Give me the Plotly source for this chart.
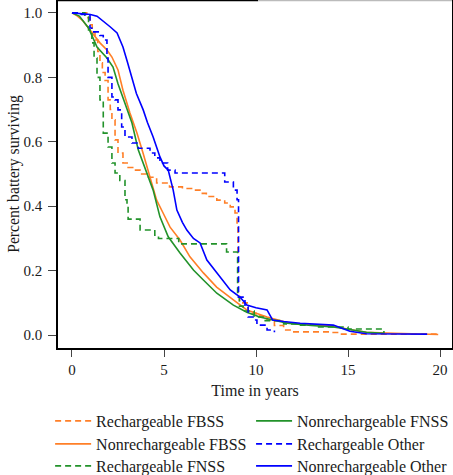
import plotly.graph_objects as go

# ---- data ----
rfbss_t = [0, 0.8, 0.98, 1.1, 1.25, 1.4, 1.52, 1.65, 1.8, 1.96, 2.08, 2.17, 2.34, 2.5, 2.77, 3.0, 3.3, 3.7,
           4.06, 4.6, 5.3, 6.0, 6.6, 7.0, 7.3, 7.87, 8.3, 8.6, 8.86, 8.97, 9.02, 9.1, 9.57, 10.0, 10.4, 10.6,
           11.0, 11.5, 12.0, 14.0, 14.5, 19.9]
rfbss_s = [1.0, 0.985, 0.963, 0.94, 0.916, 0.88, 0.845, 0.815, 0.79, 0.73, 0.70, 0.668, 0.606, 0.565, 0.534,
           0.52, 0.512, 0.50, 0.49, 0.472, 0.46, 0.455, 0.45, 0.44, 0.43, 0.419, 0.41, 0.398, 0.379, 0.348,
           0.13, 0.10, 0.068, 0.06, 0.056, 0.047, 0.03, 0.016, 0.01, 0.008, 0.003, 0.003]

nfbss_t = [0, 0.3, 0.6, 0.98, 1.25, 1.52, 1.9, 2.17, 2.5, 2.77, 3.15, 3.53, 3.86, 4.24, 4.5, 4.6, 4.95, 5.33,
           5.87, 6.41, 7.14, 7.86, 8.77, 9.5, 10.6, 11.85, 13.0, 14.2, 15.0, 16.0, 17.5, 19.9]
nfbss_s = [1.0, 0.99, 0.975, 0.947, 0.925, 0.907, 0.885, 0.863, 0.823, 0.76, 0.689, 0.627, 0.565, 0.49, 0.44,
           0.419, 0.379, 0.335, 0.295, 0.243, 0.193, 0.149, 0.109, 0.078, 0.056, 0.037, 0.032, 0.028, 0.018,
           0.009, 0.006, 0.002]

rfnss_t = [0, 0.7, 0.9, 1.08, 1.2, 1.36, 1.52, 1.7, 1.96, 2.17, 2.34, 2.6, 2.88, 2.99, 3.05, 3.7, 4.5, 4.7,
           5.8, 8.4, 9.0, 9.1, 9.3, 9.9, 10.5, 11.5, 12.2, 13.3, 15.0, 16.95]
rfnss_s = [1.0, 0.99, 0.947, 0.907, 0.86, 0.80, 0.73, 0.627, 0.584, 0.534, 0.503, 0.48, 0.42, 0.40, 0.36,
           0.326, 0.31, 0.30, 0.283, 0.258, 0.118, 0.09, 0.075, 0.056, 0.045, 0.035, 0.031, 0.025, 0.019, 0.004]

nfnss_t = [0, 0.4, 0.9, 1.36, 1.9, 2.23, 2.5, 2.88, 3.26, 3.6, 4.06, 4.41, 4.78, 5.23, 5.87, 6.6, 7.14, 7.87,
           8.77, 9.5, 10.2, 11.7, 13.0, 14.2, 15.0, 16.0, 16.9]
nfnss_s = [1.0, 0.99, 0.953, 0.894, 0.86, 0.832, 0.78, 0.72, 0.658, 0.575, 0.503, 0.45, 0.367, 0.305, 0.255,
           0.202, 0.171, 0.13, 0.093, 0.071, 0.056, 0.037, 0.03, 0.025, 0.018, 0.009, 0.006]

roth_t = [0, 0.43, 0.98, 1.08, 1.52, 1.7, 1.9, 1.96, 2.17, 2.34, 2.5, 2.7, 2.88, 3.26, 3.6, 4.24, 4.5, 4.78,
          5.2, 5.6, 8.3, 8.77, 8.97, 9.05, 9.4, 9.57, 9.84, 10.05, 10.6, 11.0]
roth_s = [1.0, 0.995, 0.953, 0.941, 0.93, 0.916, 0.86, 0.80, 0.739, 0.73, 0.699, 0.646, 0.615, 0.596, 0.58,
          0.565, 0.55, 0.534, 0.512, 0.503, 0.475, 0.45, 0.42, 0.118, 0.087, 0.056, 0.047, 0.031, 0.016, 0.009]

noth_t = [0, 0.5, 1.0, 1.36, 1.7, 2.07, 2.45, 2.77, 3.0, 3.24, 3.5, 3.87, 4.1, 4.41, 4.78, 5.0, 5.23, 5.5, 5.7,
          6.0, 6.24, 6.6, 6.96, 7.33, 7.7, 8.04, 8.6, 9.13, 9.5, 10.0, 10.6, 10.9, 11.5, 12.4, 13.3, 14.2, 15.1,
          16.0, 19.3]
noth_s = [1.0, 0.998, 0.995, 0.99, 0.975, 0.957, 0.938, 0.894, 0.85, 0.80, 0.75, 0.699, 0.66, 0.615, 0.553,
          0.525, 0.512, 0.45, 0.388, 0.35, 0.326, 0.30, 0.286, 0.233, 0.205, 0.18, 0.14, 0.118, 0.093, 0.085,
          0.078, 0.047, 0.042, 0.037, 0.034, 0.031, 0.012, 0.004, 0.003]

x_ticks = [0, 5, 10, 15, 20]
y_ticks = [0.0, 0.2, 0.4, 0.6, 0.8, 1.0]
y_tick_labels = ["0.0", "0.2", "0.4", "0.6", "0.8", "1.0"]

ORANGE = "#ff7f27"
GREEN = "#22922a"
BLUE = "#0000ff"
DASH = "6px,4px"
FONT = "Liberation Serif"
TXT = "#1a1a1a"

series = [
    ("Rechargeable FBSS", rfbss_t, rfbss_s, ORANGE, DASH, "hv"),
    ("Nonrechargeable FBSS", nfbss_t, nfbss_s, ORANGE, "solid", "linear"),
    ("Rechargeable FNSS", rfnss_t, rfnss_s, GREEN, DASH, "hv"),
    ("Nonrechargeable FNSS", nfnss_t, nfnss_s, GREEN, "solid", "linear"),
    ("Rechargeable Other", roth_t, roth_s, BLUE, DASH, "hv"),
    ("Nonrechargeable Other", noth_t, noth_s, BLUE, "solid", "linear"),
]

legend_ids = ["legend", "legend2", "legend3", "legend4", "legend5", "legend6"]
row_y = [-0.2098, -0.2759, -0.339]
col_x = [-0.02, 0.49]

fig = go.Figure()
for i, (name, t, s, col, dash, shape) in enumerate(series):
    fig.add_trace(go.Scatter(x=t, y=s, mode="lines", name=name, legend=legend_ids[i],
                             line=dict(color=col, width=1.6, dash=dash, shape=shape)))

legend_layout = {}
for i, lid in enumerate(legend_ids):
    legend_layout[lid] = dict(
        x=col_x[i // 3], y=row_y[i % 3], xanchor="left", yanchor="middle",
        orientation="v", font=dict(family=FONT, size=16, color=TXT),
        bgcolor="rgba(0,0,0,0)", borderwidth=0, itemwidth=36,
    )

fig.update_layout(
    width=453, height=475,
    margin=dict(l=58, r=1, t=0, b=127, autoexpand=False),
    paper_bgcolor="white", plot_bgcolor="white",
    font=dict(family=FONT, size=15, color=TXT),
    showlegend=True,
    **legend_layout,
    xaxis=dict(range=[-0.76, 20.65], tickvals=x_ticks, ticks="outside", ticklen=7, tickcolor="#444",
               showline=True, linecolor="black", linewidth=1.5, mirror=False, showgrid=False,
               zeroline=False,
               title=dict(text="Time in years", standoff=8, font=dict(family=FONT, size=16, color=TXT)),
               tickfont=dict(family=FONT, size=15, color=TXT)),
    yaxis=dict(range=[-0.04, 1.04], tickvals=y_ticks, ticktext=y_tick_labels, ticks="outside", ticklen=8,
               tickcolor="#444", showline=True, linecolor="black", linewidth=1.5, mirror=True,
               showgrid=False, zeroline=False, ticklabelstandoff=3,
               title=dict(text="Percent battery surviving", standoff=0,
                          font=dict(family=FONT, size=15.7, color=TXT)),
               tickfont=dict(family=FONT, size=15, color=TXT)),
    shapes=[
        dict(type="line", xref="paper", yref="paper", x0=0, x1=0.508, y0=1, y1=1,
             line=dict(color="black", width=2.5), layer="above"),
        dict(type="line", xref="paper", yref="paper", x0=0.508, x1=1, y0=1, y1=1,
             line=dict(color="#bbbbbb", width=2.5), layer="above"),
    ],
)

fig.write_html("out.html")
